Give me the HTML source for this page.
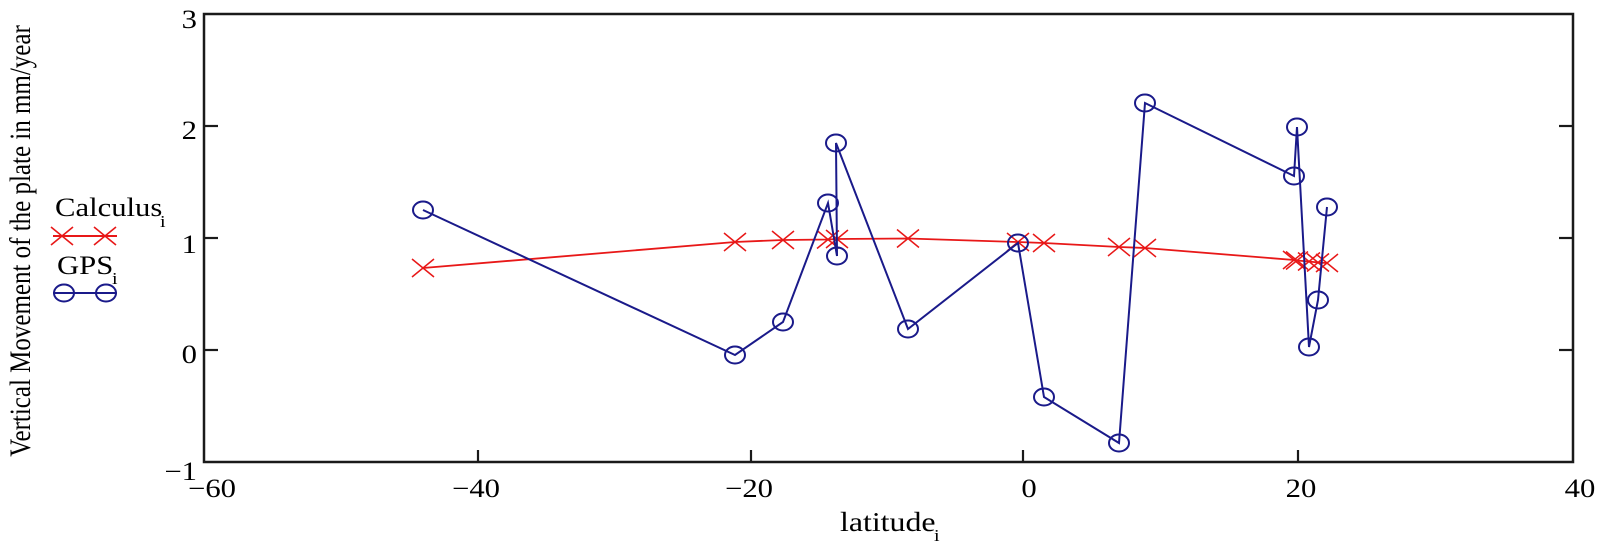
<!DOCTYPE html>
<html>
<head>
<meta charset="utf-8">
<style>
  html, body { margin:0; padding:0; background:#fff; }
  svg { display:block; }
  text { font-family: "Liberation Serif", "DejaVu Serif", serif; fill:#000; }
</style>
</head>
<body>
<svg width="1600" height="547" viewBox="0 0 1600 547" xmlns="http://www.w3.org/2000/svg">
  <rect x="0" y="0" width="1600" height="547" fill="#fff"/>

  <!-- plot frame -->
  <rect x="204" y="14" width="1369" height="448" fill="none" stroke="#1a1a1a" stroke-width="2.5"/>

  <g stroke="#1a1a1a" stroke-width="2.2">
    <line x1="204" y1="126" x2="218" y2="126"/>
    <line x1="204" y1="238" x2="218" y2="238"/>
    <line x1="204" y1="350" x2="218" y2="350"/>
    <line x1="1559" y1="126" x2="1573" y2="126"/>
    <line x1="1559" y1="238" x2="1573" y2="238"/>
    <line x1="1559" y1="350" x2="1573" y2="350"/>
    <line x1="478" y1="462" x2="478" y2="450"/>
    <line x1="751" y1="462" x2="751" y2="450"/>
    <line x1="1023" y1="462" x2="1023" y2="450"/>
    <line x1="1298" y1="462" x2="1298" y2="450"/>
  </g>

  <!-- y tick labels -->
  <g font-size="26" text-anchor="end">
    <text transform="translate(197,28) scale(1.18,1)">3</text>
    <text transform="translate(197,139) scale(1.18,1)">2</text>
    <text transform="translate(197,253) scale(1.18,1)">1</text>
    <text transform="translate(197,363) scale(1.18,1)">0</text>
    <text transform="translate(197,480) scale(1.18,1)">−1</text>
  </g>

  <!-- x tick labels -->
  <g font-size="26" text-anchor="middle">
    <text transform="translate(212,497) scale(1.18,1)">−60</text>
    <text transform="translate(476,497) scale(1.18,1)">−40</text>
    <text transform="translate(749,497) scale(1.18,1)">−20</text>
    <text transform="translate(1029,497) scale(1.18,1)">0</text>
    <text transform="translate(1301,497) scale(1.18,1)">20</text>
    <text transform="translate(1580,497) scale(1.18,1)">40</text>
  </g>

  <!-- x axis label -->
  <text font-size="27" transform="translate(840,531) scale(1.18,1)">latitude</text>
  <text font-size="17" transform="translate(934,541) scale(1.18,1)">i</text>

  <!-- y axis label -->
  <text font-size="25" text-anchor="middle" transform="translate(30,241) scale(1.18,1) rotate(-90)">Vertical Movement of the plate in mm/year</text>

  <!-- legend -->
  <text font-size="26" transform="translate(55,216) scale(1.18,1)">Calculus</text>
  <text font-size="17" transform="translate(160,227) scale(1.18,1)">i</text>
  <text font-size="26" transform="translate(57,274) scale(1.18,1)">GPS</text>
  <text font-size="17" transform="translate(112,284) scale(1.18,1)">i</text>

  <line x1="53" y1="236" x2="117" y2="236" stroke="#e81818" stroke-width="2"/>
  <g stroke="#e81818" stroke-width="1.6" fill="none">
    <path d="M51,227 L73,245 M51,245 L73,227"/>
    <path d="M94,227 L116,245 M94,245 L116,227"/>
  </g>
  <line x1="53" y1="293" x2="117" y2="293" stroke="#1a1a8a" stroke-width="2"/>
  <g stroke="#1a1a8a" stroke-width="2" fill="none">
    <ellipse cx="64" cy="293" rx="10" ry="8.5"/>
    <ellipse cx="106" cy="293" rx="10" ry="8.5"/>
  </g>

  <!-- Calculus series -->
  <polyline fill="none" stroke="#e81818" stroke-width="1.8"
    points="423,268 735,242 783,240 828,239.5 837,239 836,239 908,238.5 1018,242 1044,243 1119,247 1145,248 1294,260 1297,260.5 1309,261.5 1318,262.5 1327,263"/>
  <g stroke="#e81818" stroke-width="1.5" fill="none">
    <path d="M412,259 L434,277 M412,277 L434,259"/>
    <path d="M724,233 L746,251 M724,251 L746,233"/>
    <path d="M772,231 L794,249 M772,249 L794,231"/>
    <path d="M817,230.5 L839,248.5 M817,248.5 L839,230.5"/>
    <path d="M826,230 L848,248 M826,248 L848,230"/>
    <path d="M897,229.5 L919,247.5 M897,247.5 L919,229.5"/>
    <path d="M1007,233 L1029,251 M1007,251 L1029,233"/>
    <path d="M1033,234 L1055,252 M1033,252 L1055,234"/>
    <path d="M1108,238 L1130,256 M1108,256 L1130,238"/>
    <path d="M1134,239 L1156,257 M1134,257 L1156,239"/>
    <path d="M1283,251 L1305,269 M1283,269 L1305,251"/>
    <path d="M1286,251.5 L1308,269.5 M1286,269.5 L1308,251.5"/>
    <path d="M1298,252.5 L1320,270.5 M1298,270.5 L1320,252.5"/>
    <path d="M1307,253.5 L1329,271.5 M1307,271.5 L1329,253.5"/>
    <path d="M1316,254 L1338,272 M1316,272 L1338,254"/>
  </g>

  <!-- GPS series -->
  <polyline fill="none" stroke="#1a1a8a" stroke-width="2"
    points="423,210 735,355 783,322 828,203 837,256 836,143 908,329 1018,243 1044,397 1119,443 1145,103 1294,176 1297,127 1309,347 1318,300 1327,207"/>
  <g stroke="#1a1a8a" stroke-width="2" fill="none">
    <ellipse cx="423" cy="210" rx="10" ry="8.5"/>
    <ellipse cx="735" cy="355" rx="10" ry="8.5"/>
    <ellipse cx="783" cy="322" rx="10" ry="8.5"/>
    <ellipse cx="828" cy="203" rx="10" ry="8.5"/>
    <ellipse cx="837" cy="256" rx="10" ry="8.5"/>
    <ellipse cx="836" cy="143" rx="10" ry="8.5"/>
    <ellipse cx="908" cy="329" rx="10" ry="8.5"/>
    <ellipse cx="1018" cy="243" rx="10" ry="8.5"/>
    <ellipse cx="1044" cy="397" rx="10" ry="8.5"/>
    <ellipse cx="1119" cy="443" rx="10" ry="8.5"/>
    <ellipse cx="1145" cy="103" rx="10" ry="8.5"/>
    <ellipse cx="1294" cy="176" rx="10" ry="8.5"/>
    <ellipse cx="1297" cy="127" rx="10" ry="8.5"/>
    <ellipse cx="1309" cy="347" rx="10" ry="8.5"/>
    <ellipse cx="1318" cy="300" rx="10" ry="8.5"/>
    <ellipse cx="1327" cy="207" rx="10" ry="8.5"/>
  </g>
</svg>
</body>
</html>
